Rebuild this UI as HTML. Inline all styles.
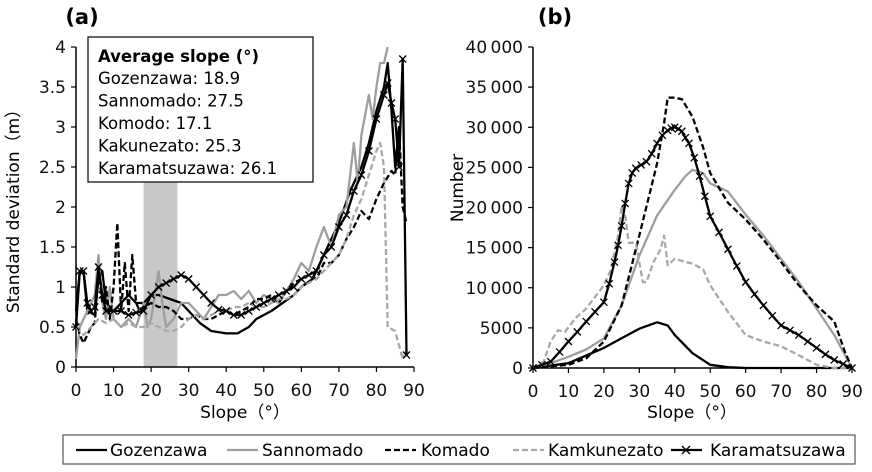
<!DOCTYPE html>
<html><head><meta charset="utf-8">
<style>
body{margin:0;background:#fff;}
svg{display:block;font-family:"DejaVu Sans","Liberation Sans",sans-serif;}
</style></head>
<body>
<svg id="c" width="872" height="472" viewBox="0 0 872 472" xmlns="http://www.w3.org/2000/svg">
<g id="ga"></g>
<g id="gb"></g>
<g id="leg"></g>
</svg>
<script>
// ---- Panel (a) data: standard deviation vs slope ----
const aGozX = [0,1,2,3,5,6,7,8,10,12,14,16,18,20,22,25,28,30,33,36,40,43,46,48,50,52,55,58,60,63,65,67,70,73,76,78,80,82,83,84,85,86];
const aGozY = [0.7,1.2,1.2,0.7,0.65,1.1,1.2,0.8,0.7,0.8,0.9,0.8,0.8,0.9,0.9,0.85,0.8,0.7,0.55,0.45,0.42,0.42,0.5,0.6,0.65,0.7,0.8,0.9,1.0,1.1,1.3,1.5,1.8,2.2,2.5,2.8,3.2,3.5,3.8,3.2,2.5,3.0];
const aSanX = [0,1,3,5,6,7,8,9,10,12,14,16,18,19,20,22,23,24,26,28,30,32,34,36,38,40,42,44,46,48,50,52,54,56,58,60,62,64,66,68,70,72,74,75,76,78,79,80,81,82,83];
const aSanY = [0.1,0.5,0.7,0.9,1.4,0.8,0.6,1.0,0.6,0.5,0.6,0.5,0.8,0.5,0.6,1.2,0.8,0.5,0.6,0.8,0.8,0.7,0.6,0.75,0.9,0.9,0.95,0.85,0.95,0.8,0.9,0.85,0.8,0.95,1.1,1.3,1.2,1.5,1.75,1.5,1.9,2.0,2.8,2.3,2.9,3.4,3.1,3.5,3.8,3.8,4.0];
const aKomX = [0,1,2,3,4,5,6,7,8,9,10,11,12,13,14,15,16,17,18,20,22,24,26,28,30,32,34,36,38,40,42,44,46,48,50,52,54,56,58,60,62,64,66,68,70,72,74,76,78,80,82,84,85,86,87,88];
const aKomY = [0.6,0.4,0.3,0.4,0.5,0.55,1.2,0.8,1.0,0.6,1.0,1.8,0.7,1.3,0.7,1.4,0.8,0.7,0.75,0.8,0.75,0.75,0.7,0.6,0.6,0.65,0.6,0.6,0.65,0.7,0.65,0.7,0.75,0.85,0.85,0.9,0.8,0.95,1.05,1.1,1.15,1.1,1.3,1.3,1.4,1.6,1.75,1.95,1.85,2.1,2.3,2.45,2.4,3.0,2.0,1.8];
const aKakX = [0,2,4,6,8,10,12,14,16,18,20,22,24,26,28,30,32,34,36,38,40,42,44,46,48,50,52,54,56,58,60,62,64,66,68,70,72,74,76,78,80,81,82,83,85,87,88];
const aKakY = [0.5,0.4,0.5,0.6,0.55,0.6,0.5,0.55,0.5,0.5,0.55,0.5,0.45,0.45,0.5,0.6,0.65,0.6,0.65,0.7,0.7,0.75,0.75,0.8,0.75,0.75,0.8,0.85,0.85,0.9,1.0,1.05,1.1,1.2,1.3,1.4,1.6,1.9,2.1,2.4,2.7,2.8,2.5,0.5,0.45,0.1,0.2];
const aKarX = [0,1,2,3,4,5,6,7,8,10,12,14,16,18,20,22,24,26,28,30,32,34,36,38,40,42,44,46,48,50,52,54,56,58,60,62,64,66,68,70,72,74,76,78,80,82,83,84,85,86,87,88];
const aKarY = [0.5,1.2,1.2,0.8,0.7,0.75,1.25,0.9,0.7,0.7,0.7,0.65,0.68,0.7,0.9,1.0,1.05,1.1,1.15,1.1,1.0,0.9,0.8,0.72,0.7,0.65,0.65,0.7,0.75,0.8,0.85,0.9,0.95,1.0,1.1,1.15,1.2,1.4,1.5,1.75,1.9,2.2,2.4,2.7,3.1,3.4,3.55,3.3,3.1,2.5,3.85,0.15];
const aYTicks = ["0","0.5","1","1.5","2","2.5","3","3.5","4"];
const xTicks = ["0","10","20","30","40","50","60","70","80","90"];
const avgLines = ["Gozenzawa: 18.9","Sannomado: 27.5","Komodo: 17.1","Kakunezato: 25.3","Karamatsuzawa: 26.1"];
const bandRange = [18, 27];

// ---- Panel (b) data: number vs slope ----
const bGozX = [0,10,20,25,30,35,38,40,45,50,55,60,90];
const bGozY = [0,600,2500,3700,4900,5700,5300,4100,1850,400,100,0,0];
const bSanX = [0,5,10,15,20,25,30,35,40,43,45,48,50,55,60,65,70,75,80,85,90];
const bSanY = [0,600,1400,2300,3700,7800,14000,19000,22200,23900,24700,24300,23000,22000,19100,16500,13600,10700,7400,4100,0];
const bKomX = [0,10,15,20,25,30,35,37,38,40,42,45,48,50,55,60,65,70,75,80,85,88,90];
const bKomY = [0,400,1200,3300,7800,16500,25500,30500,33700,33700,33500,31300,27500,24300,20600,18500,16000,13200,10300,7800,5800,2000,0];
const bKakX = [0,3,5,7,9,12,15,20,22,24,25,26,27,29,31,32,34,36,37,38,40,45,48,50,55,60,65,70,75,80,85,90];
const bKakY = [0,800,3300,4700,4500,6200,7400,10300,12300,16500,20200,19000,15600,15600,10700,10700,13200,14800,16500,12800,13600,13000,12300,10300,7000,4100,3300,2700,1600,400,0,0];
const bKarX = [0,2.5,5,7.5,10,12.5,15,17.5,20,21.5,23,24,25,26,27,28,29,30.5,32,33.5,35,36.5,38,39,40,41,42,43,44,45.5,47,48.5,50,52.5,55,57.5,60,62.5,65,67.5,70,72.5,75,77.5,80,82.5,85,87.5,90];
const bKarY = [0,400,800,2000,3300,4500,5800,7000,8200,10500,13200,15300,17700,20500,23000,24300,24900,25300,25700,26700,28000,29000,29600,29900,30000,29800,29500,28700,28000,26200,23900,21400,18900,16900,14800,12700,10700,9200,7800,6500,5300,4700,4100,3300,2500,1700,1000,500,0];
const bYTicks = ["0","5000","10\u2009000","15\u2009000","20\u2009000","25\u2009000","30\u2009000","35\u2009000","40\u2009000"];
const legendNames = ["Gozenzawa","Sannomado","Komado","Kamkunezato","Karamatsuzawa"];

const NS = "http://www.w3.org/2000/svg";
function mk(parent, tag, attrs, text){
  const e = document.createElementNS(NS, tag);
  for (const k in attrs) e.setAttribute(k, attrs[k]);
  if (text !== undefined) e.textContent = text;
  parent.appendChild(e);
  return e;
}
const styles = [
  {stroke:"#000", dash:null, marker:false},
  {stroke:"#9e9e9e", dash:null, marker:false},
  {stroke:"#000", dash:"6,3", marker:false},
  {stroke:"#a8a8a8", dash:"6,3", marker:false},
  {stroke:"#000", dash:null, marker:true}
];

function panel(g, x0, x1, y0, y1, ymax, yTicks, series, isA){
  const sx = v => x0 + (v/90)*(x1-x0);
  const sy = v => y0 - (v/ymax)*(y0-y1);
  if (isA){
    const band = mk(g,"rect",{x:sx(bandRange[0]),y:sy(4),width:sx(bandRange[1])-sx(bandRange[0]),height:sy(0)-sy(4),fill:"#c8c8c8"});
    
    
  }
  const ya = mk(g,"line",{x1:x0,y1:y1,x2:x0,y2:y0,stroke:"#000","stroke-width":1.5});
  
  
  const xa = mk(g,"line",{x1:x0,y1:y0,x2:x1,y2:y0,stroke:"#000","stroke-width":1.5});
  
  
  yTicks.forEach((t,i)=>{
    const v = i*ymax/(yTicks.length-1);
    mk(g,"line",{x1:x0-5,y1:sy(v),x2:x0,y2:sy(v),stroke:"#000","stroke-width":1.2});
    const tl = mk(g,"text",{x:x0-10,y:sy(v)+6,"text-anchor":"end","font-size":17,fill:"#111"},t);
    
    
  });
  xTicks.forEach((t,i)=>{
    const v = i*10;
    mk(g,"line",{x1:sx(v),y1:y0,x2:sx(v),y2:y0+5,stroke:"#000","stroke-width":1.2});
    const tl = mk(g,"text",{x:sx(v),y:y0+29,"text-anchor":"middle","font-size":17,fill:"#111"},t);
    
    
  });
  series.forEach((s,i)=>{
    const st = styles[i];
    const pts = s[0].map((x,j)=>sx(x).toFixed(1)+","+sy(s[1][j]).toFixed(1)).join(" ");
    const attrs = {points:pts,fill:"none",stroke:st.stroke,"stroke-width":2.3,"stroke-linejoin":"round"};
    if (st.dash) attrs["stroke-dasharray"] = st.dash;
    const pl = mk(g,"polyline",attrs);
    
    
    if (st.marker){
      s[0].forEach((x,j)=>{
        const cx = sx(x), cy = sy(s[1][j]), r = 3.5;
        const m = mk(g,"path",{d:`M${cx-r},${cy-r}L${cx+r},${cy+r}M${cx-r},${cy+r}L${cx+r},${cy-r}`,stroke:"#000","stroke-width":1.3});
        
        
      });
    }
  });
}

const ga = document.getElementById("ga");
panel(ga, 76, 414, 367, 47, 4, aYTicks,
  [[aGozX,aGozY],[aSanX,aSanY],[aKomX,aKomY],[aKakX,aKakY],[aKarX,aKarY]], true);
const gb = document.getElementById("gb");
panel(gb, 533, 852, 368, 47, 40000, bYTicks,
  [[bGozX,bGozY],[bSanX,bSanY],[bKomX,bKomY],[bKakX,bKakY],[bKarX,bKarY]], false);

let t;
t = mk(ga,"text",{x:82,y:24,"font-size":21,"font-weight":"bold","text-anchor":"middle"},"(a)");


t = mk(gb,"text",{x:555,y:24,"font-size":21,"font-weight":"bold","text-anchor":"middle"},"(b)");


t = mk(ga,"text",{x:245,y:418,"font-size":17,"text-anchor":"middle"},"Slope（°）");


t = mk(gb,"text",{x:692,y:418,"font-size":17,"text-anchor":"middle"},"Slope（°）");


t = mk(ga,"text",{x:0,y:0,"font-size":17,"text-anchor":"middle",transform:"translate(19,207) rotate(-90)"},"Standard deviation（m）");


t = mk(gb,"text",{x:0,y:0,"font-size":17,"text-anchor":"middle",transform:"translate(463,188) rotate(-90)"},"Number");



const box = mk(ga,"rect",{x:88,y:37,width:225,height:145,fill:"#fff",stroke:"#000","stroke-width":1.2});


t = mk(ga,"text",{x:98,y:62,"font-size":16.5,"font-weight":"bold"},"Average slope (°)");


avgLines.forEach((s,i)=>{
  const e = mk(ga,"text",{x:98,y:84+i*22.5,"font-size":16.5},s);
  
  
});

const leg = document.getElementById("leg");
mk(leg,"rect",{x:63,y:435,width:792,height:29,fill:"#fff",stroke:"#555","stroke-width":1.2});
const legSampleX = [76,227,385,513,671];
const legTextX = [110,262,421,548,710];
legendNames.forEach((n,i)=>{
  const st = styles[i];
  const a = {x1:legSampleX[i],y1:450,x2:legSampleX[i]+31,y2:450,stroke:st.stroke,"stroke-width":2.3};
  if (st.dash) a["stroke-dasharray"]="6,3";
  const l = mk(leg,"line",a);
  
  
  if (st.marker){
    const cx = legSampleX[i]+15;
    mk(leg,"path",{d:`M${cx-4},446L${cx+4},454M${cx-4},454L${cx+4},446`,stroke:"#000","stroke-width":1.4});
  }
  const e = mk(leg,"text",{x:legTextX[i],y:456,"font-size":17},n);
  
  
});
</script>
</body></html>
